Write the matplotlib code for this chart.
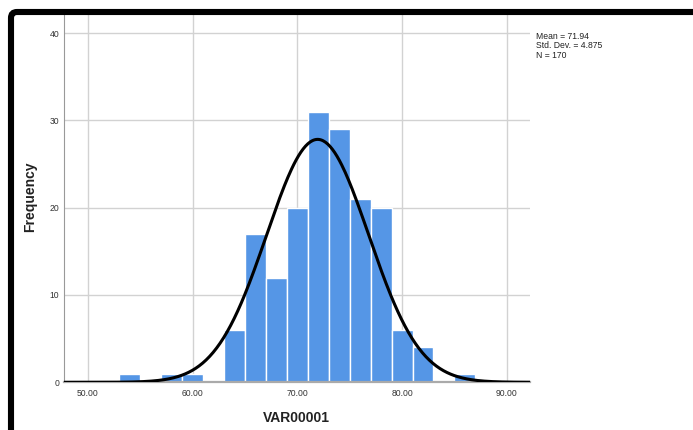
import matplotlib
matplotlib.use("Agg")
import matplotlib.pyplot as plt
import numpy as np
from matplotlib.patches import FancyBboxPatch
from matplotlib.transforms import IdentityTransform

plt.rcParams["font.family"] = ["Liberation Sans", "DejaVu Sans"]

# histogram bins (width 2) and counts
bin_left = [53, 57, 59, 63, 65, 67, 69, 71, 73, 75, 77, 79, 81, 85]
counts = [1, 1, 1, 6, 17, 12, 20, 31, 29, 21, 20, 6, 4, 1]
bin_width = 2
mean_val = 71.94
sd_val = 4.875
n_val = 170

x_ticks = [50, 60, 70, 80, 90]
x_tick_labels = ["50.00", "60.00", "70.00", "80.00", "90.00"]
y_ticks = [0, 10, 20, 30, 40]

BAR_COLOR = "#5596E6"
GRID_COLOR = "#D2D2D2"

fig = plt.figure(figsize=(6.93, 4.30), dpi=100)
ax = fig.add_axes([63.5 / 693, 1 - 382.3 / 430, (530 - 63.5) / 693, (382.3 - 15) / 430])

ax.bar(bin_left, counts, width=bin_width, align="edge", color=BAR_COLOR,
       edgecolor="white", linewidth=1.0, zorder=2)

xlim = (47.67, 92.22)
xs = np.linspace(xlim[0], xlim[1], 400)
curve = n_val * bin_width / (sd_val * np.sqrt(2 * np.pi)) * np.exp(-0.5 * ((xs - mean_val) / sd_val) ** 2)
ax.plot(xs, curve, color="black", linewidth=2.2, zorder=4, solid_capstyle="butt")

ax.set_xlim(*xlim)
ax.set_ylim(0, 42.07)
ax.set_xticks(x_ticks)
ax.set_xticklabels(x_tick_labels)
ax.set_yticks(y_ticks)
ax.grid(True, color=GRID_COLOR, linewidth=1.0, zorder=0)
ax.set_axisbelow(True)
ax.tick_params(axis="both", length=0, labelsize=6.2, colors="#333333")
ax.tick_params(axis="x", pad=5)
ax.tick_params(axis="y", pad=3)

for side in ("top", "right"):
    ax.spines[side].set_visible(False)
ax.spines["left"].set_color("#999999")
ax.spines["left"].set_linewidth(0.8)
ax.spines["bottom"].set_color("#AAAAAA")
ax.spines["bottom"].set_linewidth(1.6)
ax.spines["bottom"].set_zorder(3)

ax.set_xlabel("VAR00001", fontsize=10, fontweight="bold", color="#222222", labelpad=9)
ax.set_ylabel("Frequency", fontsize=10, fontweight="bold", color="#222222")
ax.yaxis.set_label_coords(-0.057, 0.504)

fig.text(536 / 693, 1 - 32 / 430,
         f"Mean = {mean_val}\nStd. Dev. = {sd_val}\nN = {n_val}",
         fontsize=6.2, va="top", ha="left", color="#222222", linespacing=1.05)

# black frame with rounded corner at top-left (SPSS output window look)
frame = FancyBboxPatch((11, -60), 760, 430 - 12 + 60,
                       boxstyle="round,pad=0,rounding_size=6",
                       transform=IdentityTransform(), fill=False,
                       edgecolor="black", linewidth=4.4)
fig.patches.append(frame)

fig.savefig("out.png", dpi=100)
